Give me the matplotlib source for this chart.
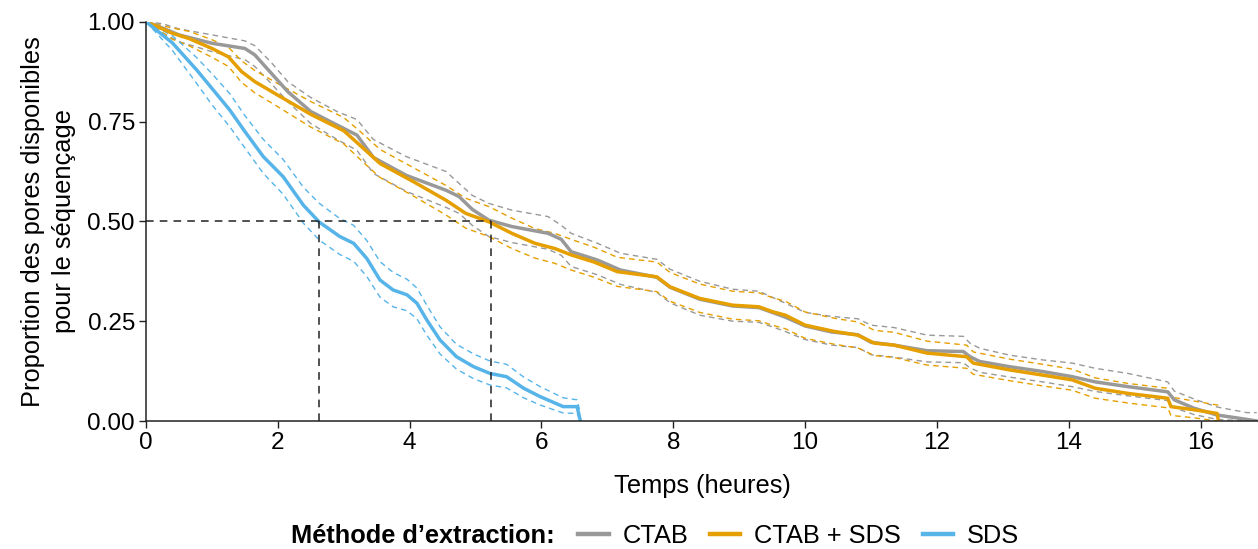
import matplotlib
matplotlib.use("Agg")
import matplotlib.pyplot as plt
from matplotlib.lines import Line2D

plt.rcParams['font.family'] = ['Liberation Sans', 'DejaVu Sans']

# ---- data ----
ctab_t = [0, 0.25, 0.5, 1.0, 1.5, 1.65, 1.9, 2.15, 2.5, 2.9, 3.2, 3.45, 3.95, 4.55, 4.75, 4.95, 5.2,
          5.55, 6.1, 6.3, 6.45, 6.85, 7.2, 7.75, 7.95, 8.4, 8.9, 9.3, 9.5, 9.7, 10.0, 10.4, 10.8, 11.0,
          11.35, 11.85, 12.4, 12.5, 12.65, 13.1, 13.6, 14.05, 14.4, 14.9, 15.5, 15.6, 15.9, 16.25, 16.7, 16.85]
ctab_s = [1, 0.984, 0.967, 0.946, 0.933, 0.917, 0.871, 0.825, 0.775, 0.741, 0.716, 0.66, 0.615, 0.578,
          0.562, 0.53, 0.503, 0.487, 0.47, 0.455, 0.424, 0.403, 0.378, 0.36, 0.335, 0.305, 0.288, 0.284,
          0.272, 0.26, 0.238, 0.223, 0.216, 0.197, 0.19, 0.176, 0.174, 0.161, 0.149, 0.136, 0.124, 0.111,
          0.098, 0.086, 0.073, 0.053, 0.032, 0.015, 0.004, 0.0]
ctab_up = [1, 0.995, 0.982, 0.967, 0.952, 0.94, 0.898, 0.85, 0.81, 0.775, 0.755, 0.705, 0.662, 0.625,
           0.595, 0.565, 0.545, 0.528, 0.512, 0.49, 0.47, 0.445, 0.42, 0.405, 0.38, 0.35, 0.33, 0.325,
           0.31, 0.295, 0.272, 0.262, 0.256, 0.24, 0.234, 0.215, 0.212, 0.195, 0.182, 0.165, 0.153, 0.145,
           0.132, 0.119, 0.098, 0.075, 0.055, 0.035, 0.021, 0.021]
ctab_lo = [1, 0.972, 0.95, 0.925, 0.905, 0.888, 0.845, 0.8, 0.745, 0.705, 0.678, 0.62, 0.575, 0.535,
           0.52, 0.49, 0.462, 0.447, 0.43, 0.415, 0.387, 0.366, 0.342, 0.322, 0.296, 0.265, 0.25, 0.247,
           0.236, 0.224, 0.204, 0.19, 0.184, 0.166, 0.16, 0.148, 0.146, 0.133, 0.122, 0.11, 0.098, 0.086,
           0.074, 0.063, 0.051, 0.033, 0.016, 0.004, 0.0, 0.0]

mix_t = [0, 0.4, 0.65, 1.0, 1.25, 1.45, 1.65, 2.0, 2.5, 3.0, 3.25, 3.55, 4.05, 4.55, 4.85, 5.2, 5.55,
         5.9, 6.2, 6.45, 6.8, 7.15, 7.75, 7.95, 8.4, 8.9, 9.3, 9.5, 9.7, 10.0, 10.45, 10.8, 11.05, 11.35,
         11.85, 12.45, 12.55, 13.1, 13.6, 14.05, 14.4, 14.9, 15.5, 15.55, 15.9, 16.25, 16.27]
mix_s = [1, 0.971, 0.958, 0.933, 0.912, 0.875, 0.85, 0.816, 0.768, 0.727, 0.69, 0.645, 0.6, 0.553, 0.52,
         0.499, 0.47, 0.445, 0.432, 0.416, 0.398, 0.374, 0.361, 0.336, 0.307, 0.29, 0.286, 0.274, 0.265,
         0.24, 0.224, 0.215, 0.195, 0.19, 0.17, 0.161, 0.145, 0.128, 0.115, 0.103, 0.082, 0.069, 0.057,
         0.036, 0.028, 0.019, 0.0]
mix_up = [1, 0.984, 0.976, 0.955, 0.936, 0.902, 0.878, 0.845, 0.8, 0.76, 0.725, 0.68, 0.635, 0.59, 0.558,
          0.537, 0.508, 0.482, 0.47, 0.455, 0.435, 0.41, 0.398, 0.372, 0.343, 0.325, 0.321, 0.309, 0.3,
          0.273, 0.257, 0.248, 0.227, 0.222, 0.2, 0.19, 0.173, 0.155, 0.142, 0.13, 0.108, 0.094, 0.082,
          0.06, 0.05, 0.04, 0.04]
mix_lo = [1, 0.956, 0.94, 0.911, 0.888, 0.848, 0.822, 0.787, 0.736, 0.694, 0.655, 0.61, 0.564, 0.516,
          0.483, 0.462, 0.432, 0.408, 0.395, 0.378, 0.36, 0.337, 0.324, 0.3, 0.272, 0.255, 0.251, 0.24,
          0.231, 0.207, 0.192, 0.183, 0.164, 0.159, 0.14, 0.132, 0.117, 0.101, 0.088, 0.077, 0.057, 0.045,
          0.033, 0.014, 0.008, 0.0, 0.0]

sds_t = [0, 0.4, 0.77, 1.0, 1.27, 1.5, 1.78, 2.08, 2.39, 2.63, 2.94, 3.15, 3.35, 3.55, 3.75, 3.96, 4.11,
         4.26, 4.46, 4.71, 4.97, 5.22, 5.47, 5.73, 5.98, 6.33, 6.54, 6.59]
sds_s = [1, 0.947, 0.879, 0.833, 0.779, 0.725, 0.662, 0.612, 0.540, 0.498, 0.462, 0.445, 0.407, 0.353,
         0.328, 0.316, 0.295, 0.253, 0.203, 0.161, 0.136, 0.119, 0.111, 0.082, 0.061, 0.036, 0.036, 0.0]
sds_up = [1, 0.965, 0.91, 0.87, 0.82, 0.765, 0.705, 0.655, 0.585, 0.545, 0.507, 0.49, 0.452, 0.399,
          0.372, 0.355, 0.333, 0.29, 0.236, 0.192, 0.168, 0.15, 0.142, 0.11, 0.086, 0.058, 0.053, 0.02]
sds_lo = [1, 0.928, 0.845, 0.792, 0.737, 0.684, 0.62, 0.568, 0.495, 0.453, 0.417, 0.4, 0.362, 0.31,
          0.286, 0.276, 0.256, 0.215, 0.168, 0.13, 0.106, 0.09, 0.083, 0.058, 0.04, 0.02, 0.019, 0.0]

median_sds = 2.625
median_mix = 5.235

labels = ["CTAB", "CTAB + SDS", "SDS"]
colors = ["#999999", "#E69F00", "#56B4E9"]
x_ticks = [0, 2, 4, 6, 8, 10, 12, 14, 16]
y_ticks = [0.0, 0.25, 0.5, 0.75, 1.0]
y_ticklabels = ["0.00", "0.25", "0.50", "0.75", "1.00"]

FS = 18.3
TFS = 17.5

# ---- figure ----
fig = plt.figure(figsize=(12.58, 5.49), dpi=100)
ax = fig.add_axes([146 / 1258, 1 - 421 / 549, 1 - 146 / 1258, (421 - 21.7) / 549])

series = [(ctab_t, ctab_s, ctab_up, ctab_lo), (mix_t, mix_s, mix_up, mix_lo), (sds_t, sds_s, sds_up, sds_lo)]
for (t, s, up, lo), c in zip(series, colors):
    for band in (up, lo):
        ax.plot(t, band, color=c, lw=1.0, ls=(0, (4, 3)), zorder=2)
for (t, s, up, lo), c in zip(series, colors):
    ax.plot(t, s, color=c, lw=2.5, zorder=3)

# median reference lines
ref_kw = dict(color="#222222", lw=1.1, ls=(0, (5, 4)), zorder=4)
ax.plot([0, median_mix], [0.5, 0.5], **ref_kw)
ax.plot([median_sds, median_sds], [0, 0.5], **ref_kw)
ax.plot([median_mix, median_mix], [0, 0.5], **ref_kw)

ax.set_xlim(0, 16.87)
ax.set_ylim(0, 1)
ax.set_xticks(x_ticks)
ax.set_yticks(y_ticks)
ax.set_yticklabels(y_ticklabels)
for sp in ("top", "right"):
    ax.spines[sp].set_visible(False)
for sp in ("left", "bottom"):
    ax.spines[sp].set_linewidth(1.1)
    ax.spines[sp].set_color("#222222")
    ax.spines[sp].set_zorder(5)
ax.tick_params(axis="both", direction="out", length=5, width=1.0, colors="#222222",
               labelsize=TFS, labelcolor="black", pad=3)
ax.set_xlabel("Temps (heures)", fontsize=FS, labelpad=14)
ax.set_ylabel("Proportion des pores disponibles\npour le séquençage", fontsize=FS, labelpad=8,
              linespacing=1.4)

# legend
fig.text(555 / 1258, 1 - 536 / 549, "Méthode d’extraction:", fontsize=FS, fontweight="bold",
         ha="right", va="center")
handles = [Line2D([], [], color=c, lw=3.2) for c in colors]
fig.legend(handles, labels, loc="center left", bbox_to_anchor=(578 / 1258, 1 - 536 / 549), ncol=3,
           frameon=False, fontsize=FS, handlelength=1.2, handletextpad=0.55, columnspacing=0.85,
           borderaxespad=0, borderpad=0)

fig.savefig("out.png", dpi=100)
